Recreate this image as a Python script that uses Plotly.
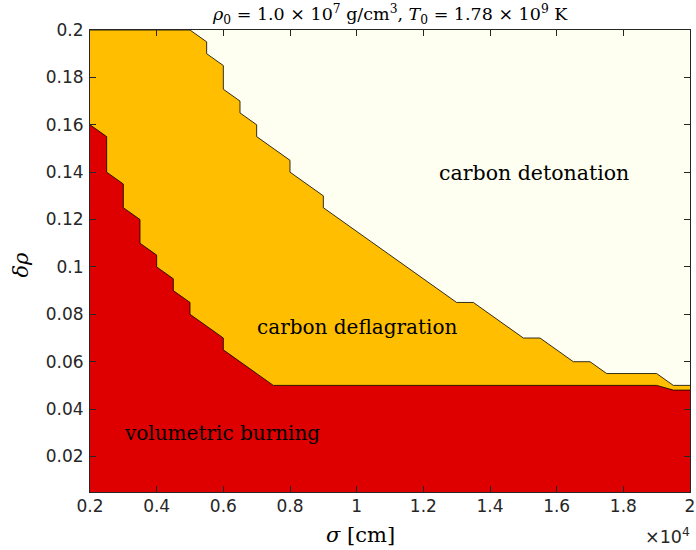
import plotly.graph_objects as go

# Burning-regime map in the (sigma, delta-rho) plane
# Boundary between carbon deflagration and carbon detonation
det_sigma = [2000, 5000, 5500, 5500, 6000, 6000, 6500, 6500, 7000, 7000, 8000, 8000,
             9000, 9000, 13000, 13500, 15000, 15500, 16500, 17000, 17500, 19000, 19500, 20000]
det_drho = [0.2, 0.2, 0.195, 0.19, 0.185, 0.175, 0.17, 0.165, 0.16, 0.155, 0.145, 0.14,
            0.13, 0.125, 0.085, 0.085, 0.07, 0.07, 0.06, 0.06, 0.055, 0.055, 0.05, 0.05]

# Boundary between volumetric burning and carbon deflagration
vol_sigma = [2000, 2500, 2500, 3000, 3000, 3500, 3500, 4000, 4000, 4500, 4500, 5000,
             5000, 6000, 6000, 7500, 19000, 19500, 20000]
vol_drho = [0.16, 0.155, 0.14, 0.135, 0.125, 0.12, 0.11, 0.105, 0.1, 0.095, 0.09, 0.085,
            0.08, 0.07, 0.065, 0.05, 0.05, 0.048, 0.048]

# Top edge of the domain (detonation region fills everything above the boundary)
top_sigma = [2000, 20000]
top_drho = [0.2, 0.2]

x_ticks = [2000, 4000, 6000, 8000, 10000, 12000, 14000, 16000, 18000, 20000]
x_ticktext = ["0.2", "0.4", "0.6", "0.8", "1", "1.2", "1.4", "1.6", "1.8", "2"]
y_ticks = [0.02, 0.04, 0.06, 0.08, 0.1, 0.12, 0.14, 0.16, 0.18, 0.2]
y_ticktext = ["0.02", "0.04", "0.06", "0.08", "0.1", "0.12", "0.14", "0.16", "0.18", "0.2"]

regions = ["carbon detonation", "carbon deflagration", "volumetric burning"]
label_sigma = [15330, 10000, 5950]
label_drho = [0.1395, 0.0745, 0.0298]
label_size = [20.5, 20, 20]

C_DET = "#FEFFF0"
C_DEF = "#FFBF00"
C_VOL = "#DE0000"
AX = "#262626"
SERIF = "DejaVu Serif"
SANS = "DejaVu Sans"

fig = go.Figure()
fig.add_trace(go.Scatter(x=top_sigma, y=top_drho, mode="lines", fill="tozeroy",
                         fillcolor=C_DET, line=dict(width=0), hoverinfo="skip",
                         showlegend=False))
fig.add_trace(go.Scatter(x=det_sigma, y=det_drho, mode="lines", fill="tozeroy",
                         fillcolor=C_DEF, line=dict(color="black", width=0.8),
                         showlegend=False))
fig.add_trace(go.Scatter(x=vol_sigma, y=vol_drho, mode="lines", fill="tozeroy",
                         fillcolor=C_VOL, line=dict(color="black", width=0.8),
                         showlegend=False))

for name, sx, sy, fs in zip(regions, label_sigma, label_drho, label_size):
    fig.add_annotation(x=sx, y=sy, xref="x", yref="y", text=name, showarrow=False,
                       xanchor="center", yanchor="middle",
                       font=dict(family=SERIF, size=fs, color="black"))


def paper_note(px, py, text, font, angle=0):
    """Place a centred text at a pixel position of the 696x550 canvas."""
    fig.add_annotation(x=(px - 90) / 605, y=(492 - py) / 462, xref="paper",
                       yref="paper", showarrow=False, text=text, textangle=angle,
                       xanchor="center", yanchor="middle", font=font)


paper_note(392, 14,
           "<i>ρ</i><sub>0</sub> = 1.0 × 10<sup>7</sup> g/cm<sup>3</sup>, "
           "<i>T</i><sub>0</sub> = 1.78 × 10<sup>9</sup> K",
           dict(family=SERIF, size=17.5, color="black"))
paper_note(363, 535, "<i>σ</i> [cm]", dict(family=SERIF, size=21, color="black"))
paper_note(20, 265, "<i>δρ</i>", dict(family=SERIF, size=21, color="black"), angle=-90)
paper_note(672, 536, "×10<sup>4</sup>", dict(family=SANS, size=17.5, color=AX))

axis_common = dict(showline=True, linecolor=AX, linewidth=1, mirror="ticks",
                   ticks="inside", ticklen=6, tickcolor=AX, tickwidth=1,
                   showgrid=False, zeroline=False, ticklabeloverflow="allow",
                   tickfont=dict(family=SANS, size=17, color=AX))
fig.update_xaxes(range=[2000, 20000], tickvals=x_ticks, ticktext=x_ticktext,
                 ticklabelstandoff=-1, **axis_common)
fig.update_yaxes(range=[0.005, 0.2], tickvals=y_ticks, ticktext=y_ticktext,
                 ticklabelstandoff=2, **axis_common)

fig.update_layout(width=696, height=550, margin=dict(l=90, r=1, t=30, b=58),
                  paper_bgcolor="white", plot_bgcolor=C_DET, showlegend=False)

fig.write_html("out.html")
